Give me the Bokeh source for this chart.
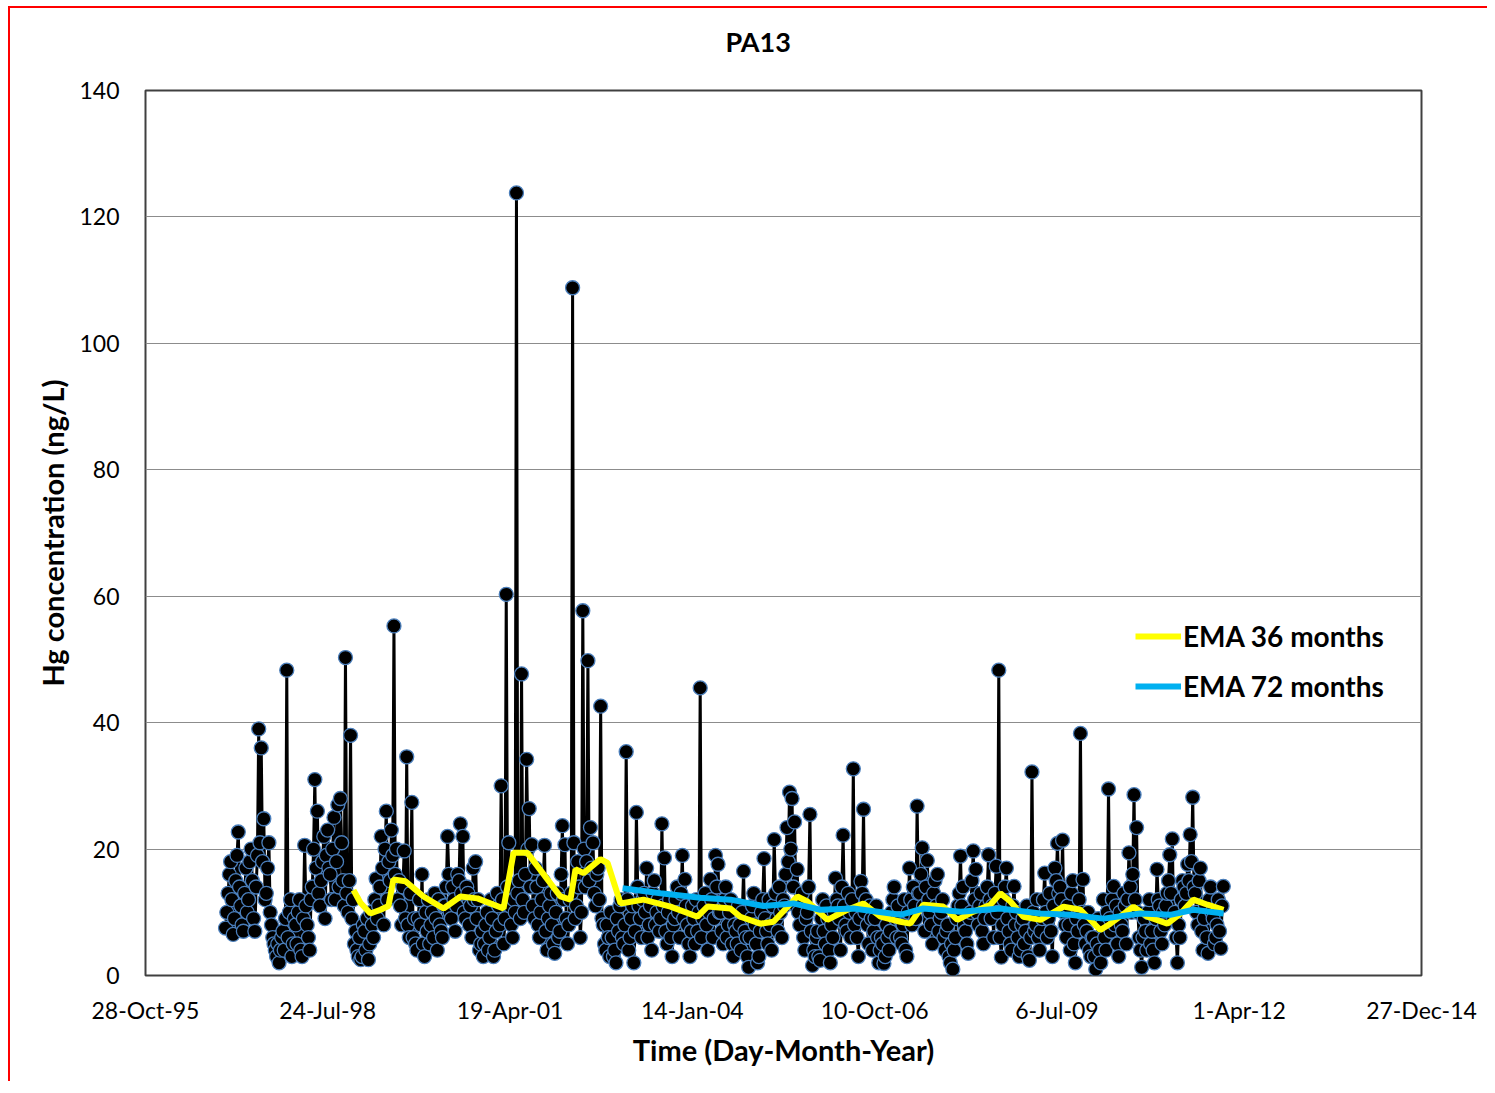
import pandas as pd
from bokeh.plotting import figure
from bokeh.models import Range1d, FixedTicker, CustomJSTickFormatter, Title
from bokeh.embed import file_html
from bokeh.resources import INLINE

# ---------------- data ----------------
sample_start = "1997-01-09"   # weekly samples
# samples on the even weeks
hg_values = [
    7.5, 13, 18, 6.5, 15, 22.7, 11, 7, 17, 12, 20, 9, 14, 39, 36, 24.8, 13, 21, 8, 5,
    3, 2, 6, 4, 48.3, 10, 3, 9, 5, 12, 3, 20.6, 8, 4, 14, 31, 26, 11, 18, 9,
    23, 16, 20, 12, 27, 28, 15, 50.3, 10, 38, 12, 7, 3, 2.5, 8, 4, 2.5, 10, 6, 15.3,
    11, 22, 8, 26, 18, 23, 55.3, 20, 15, 8, 19.7, 34.6, 6, 27.4, 9, 4, 12, 16, 3, 7,
    5, 10, 13, 4, 8, 6, 11, 22, 10, 14, 7, 16, 24, 22, 9, 13, 11, 17, 18, 12,
    5, 3, 8, 4, 12, 3, 7, 11, 30, 5, 60.3, 21, 8, 12, 123.8, 15, 47.7, 10, 34.2, 26.4,
    20.7, 9, 14, 6, 12, 20.6, 4, 11, 8, 3.5, 13, 7, 23.7, 20.7, 5, 12, 108.8, 9, 18, 6,
    57.7, 14, 49.8, 23.4, 21, 11, 17, 42.6, 8, 4, 6, 10, 3, 2, 7, 12, 5, 35.4, 4, 9,
    2, 25.8, 11, 6, 13, 17, 8, 4, 15, 10, 7, 24, 18.6, 5, 12, 3, 9, 14, 6, 19,
    15.2, 8, 3, 11, 5, 7, 45.5, 9, 13, 4, 15.2, 6, 19, 17.6, 10, 5, 14, 8, 12, 3,
    7, 11, 4, 16.5, 6, 1.3, 9, 13, 5, 3, 10, 18.5, 7, 12, 4, 21.5, 9, 14, 6, 11,
    23.4, 29, 28, 24.3, 16.8, 8, 13, 4, 10, 25.5, 1.6, 3, 7, 2.4, 12, 5, 9, 2, 6, 15.4,
    11, 4, 22.2, 8, 13, 6, 32.7, 10, 3, 14.9, 26.3, 12, 5, 9, 7, 11, 2, 6, 1.9, 8,
    4, 10, 14, 6, 9, 5, 12, 3, 17, 8, 11, 26.8, 13, 20.2, 7, 18.2, 10, 5, 15, 16,
    9, 12, 4, 8, 2, 1, 6, 11, 18.9, 14, 7, 3.5, 10, 19.7, 16.8, 8, 13, 5, 11, 19.1,
    9, 6, 17.3, 48.3, 2.9, 12, 17, 7, 4, 14.1, 10, 3, 8, 5, 11, 2.4, 32.2, 7, 12, 4,
    9, 16.2, 6, 13, 3, 17, 20.9, 14, 21.4, 8, 11, 4, 15, 2, 7, 38.3, 15.2, 5, 10, 3,
    6, 1, 9, 2, 12, 4, 29.5, 7, 14.1, 11, 3, 8, 13, 5, 19.4, 10, 28.6, 23.4, 6, 1.3,
    9, 4, 12, 7, 2, 16.8, 11, 5, 8, 13, 19.1, 21.6, 10, 2, 6, 15, 11, 17.6, 22.3, 28.2,
    13, 8, 17, 4, 11, 3.5, 14, 9, 6, 12, 4.3, 14.1,
]
# samples on the odd weeks (between the values above)
hg_values_mid = [
    10, 16, 12, 9, 19, 14, 8, 13, 10, 18, 15, 7, 19, 21, 18, 12, 17, 10, 6, 4,
    5, 4, 7, 9, 6, 12, 5, 8, 10, 4, 9, 11, 6, 12, 20, 17, 13, 15, 22, 19,
    17, 12, 25, 18, 14, 21, 11, 13, 15, 9, 5, 4, 6, 3, 7, 9, 5, 8, 12, 9,
    14, 17, 20, 12, 15, 19, 16, 12, 11, 14, 9, 8, 13, 6, 5, 9, 8, 5, 10, 12,
    8, 6, 9, 12, 7, 11, 14, 16, 9, 12, 11, 15, 13, 10, 14, 8, 6, 12, 9, 4,
    7, 5, 10, 6, 9, 4, 13, 8, 12, 9, 14, 11, 6, 10, 13, 9, 12, 16, 20, 14,
    11, 17, 8, 10, 15, 7, 9, 13, 5, 10, 6, 16, 12, 9, 8, 13, 21, 11, 14, 10,
    20, 18, 15, 17, 13, 16, 12, 9, 5, 8, 3, 6, 4, 9, 11, 6, 8, 12, 6, 11,
    7, 14, 9, 12, 10, 6, 11, 13, 8, 12, 9, 11, 7, 10, 6, 8, 12, 10, 13, 9,
    11, 5, 7, 9, 12, 10, 6, 11, 8, 10, 12, 9, 14, 10, 7, 12, 6, 10, 5, 8,
    5, 8, 10, 7, 3, 6, 11, 8, 2, 7, 12, 9, 5, 8, 11, 13, 7, 10, 12, 16,
    18, 20, 14, 11, 10, 12, 6, 9, 14, 7, 4, 6, 3, 9, 7, 11, 4, 8, 10, 12,
    9, 14, 11, 7, 10, 12, 8, 6, 9, 13, 10, 8, 11, 4, 9, 6, 4, 5, 3, 6,
    7, 12, 9, 11, 6, 8, 4, 10, 12, 14, 9, 13, 16, 11, 14, 12, 8, 13, 11, 7,
    10, 6, 7, 3, 5, 4, 9, 13, 11, 8, 5, 9, 15, 12, 10, 11, 7, 9, 14, 12,
    11, 13, 10, 6, 8, 14, 9, 5, 11, 8, 6, 4, 9, 7, 3, 6, 10, 8, 6, 7,
    12, 10, 9, 7, 11, 15, 13, 12, 10, 6, 8, 13, 5, 9, 12, 10, 8, 7, 4, 6,
    3, 5, 4, 8, 6, 10, 9, 12, 8, 5, 10, 7, 11, 12, 14, 16, 12, 10, 4, 6,
    7, 10, 5, 4, 9, 12, 7, 10, 11, 15, 13, 9, 6, 8, 12, 14, 13, 15, 18, 14,
    10, 15, 7, 9, 6, 12, 10, 5, 8, 7, 11,
]

ema36_dates = [
    "1998-12-12", "1999-01-19", "1999-03-15", "1999-05-09", "1999-06-22", "1999-07-19",
    "1999-09-23", "1999-12-31", "2000-04-19", "2000-07-21", "2000-10-22", "2001-03-14",
    "2001-05-08", "2001-07-23", "2001-11-10", "2002-01-20", "2002-03-16", "2002-04-13",
    "2002-05-27", "2002-08-28", "2002-10-06", "2002-12-16", "2003-04-21", "2003-09-16",
    "2004-02-11", "2004-04-06", "2004-08-10", "2004-10-03", "2005-01-21", "2005-04-03",
    "2005-08-12", "2005-10-06", "2006-01-24", "2006-05-13", "2006-08-09", "2006-11-11",
    "2007-02-28", "2007-04-24", "2007-07-04", "2007-10-22", "2008-01-07", "2008-04-04",
    "2008-07-06", "2008-08-30", "2008-10-24", "2009-01-03", "2009-04-07", "2009-08-11",
    "2009-11-12", "2010-03-01", "2010-04-25", "2010-08-30", "2010-11-15", "2011-03-04",
    "2011-05-15", "2011-07-25", "2011-10-10", "2012-01-06",
]
ema36_values = [
    13.5, 11.5, 9.8, 10.4, 11.0, 15.2,
    14.9, 12.5, 10.6, 12.5, 12.2, 10.6,
    19.4, 19.4, 15.2, 12.5, 12.0, 16.8,
    16.2, 18.4, 17.8, 11.4, 12.0, 10.9,
    9.3, 10.9, 10.6, 9.3, 8.2, 8.5,
    12.5, 11.7, 8.8, 10.4, 11.4, 9.3,
    8.5, 8.2, 11.2, 10.9, 8.8, 10.1,
    11.2, 13.0, 11.7, 9.3, 8.8, 10.9,
    10.4, 7.2, 8.2, 10.9, 9.3, 8.2,
    9.8, 12.0, 11.2, 10.4,
]

ema72_dates = [
    "2002-12-27", "2003-07-23", "2004-02-27", "2004-08-10", "2005-02-07", "2005-07-21",
    "2005-12-16", "2006-06-15", "2007-02-28", "2007-07-04", "2008-01-25", "2008-08-30",
    "2009-04-07", "2009-09-18", "2010-03-18", "2010-10-07", "2011-03-20", "2011-07-25",
    "2012-01-06",
]
ema72_values = [
    13.8, 13.0, 12.3, 12.0, 11.0, 11.4,
    10.4, 10.6, 9.6, 10.6, 10.1, 10.6,
    9.8, 9.6, 9.0, 9.8, 9.6, 10.4,
    9.8,
]

x_tick_dates = ["1995-10-28", "1998-07-24", "2001-04-19", "2004-01-14",
                "2006-10-10", "2009-07-06", "2012-04-01", "2014-12-27"]
y_ticks = [0, 20, 40, 60, 80, 100, 120, 140]

# ---------------- assemble weekly series ----------------
hg_weekly = []
for i, v in enumerate(hg_values):
    hg_weekly.append(v)
    if i < len(hg_values_mid):
        hg_weekly.append(hg_values_mid[i])
sample_dates = pd.date_range(sample_start, periods=len(hg_weekly), freq="7D")

# ---------------- figure ----------------
FONT = "Lato"
tick_ts = [pd.Timestamp(d) for d in x_tick_dates]

p = figure(width=1479, height=1075, x_axis_type="datetime",
           output_backend="svg", toolbar_location=None,
           x_range=Range1d(tick_ts[0], tick_ts[-1]),
           y_range=Range1d(0, 140),
           min_border_left=135, min_border_right=68,
           min_border_top=82, min_border_bottom=108,
           title="PA13")
p.styles = {"margin-left": "8px", "margin-top": "6px",
            "border-left": "2px solid red", "border-top": "2px solid red"}

p.title.align = "left"
p.title.offset = 580
p.title.text_font = FONT
p.title.text_font_size = "27px"
p.title.text_font_style = "bold"
p.title.text_color = "black"
p.title.standoff = 4

# empty spacer between the title and the plot frame
p.add_layout(Title(text=" ", text_font_size="10px", standoff=18), "above")

p.outline_line_color = "#404040"
p.outline_line_width = 2
p.background_fill_color = "white"
p.border_fill_color = "white"

p.xgrid.grid_line_color = None
p.ygrid.grid_line_color = "#8c8c8c"
p.ygrid.grid_line_width = 1

p.yaxis.ticker = FixedTicker(ticks=y_ticks)
p.xaxis.ticker = FixedTicker(ticks=[t.value / 1e6 for t in tick_ts])
p.xaxis.formatter = CustomJSTickFormatter(code="""
const d = new Date(tick);
const m = ["Jan","Feb","Mar","Apr","May","Jun","Jul","Aug","Sep","Oct","Nov","Dec"][d.getUTCMonth()];
return d.getUTCDate() + "-" + m + "-" + String(d.getUTCFullYear()).slice(2);
""")

for ax in (p.xaxis, p.yaxis):
    ax.axis_line_color = None
    ax.major_tick_line_color = None
    ax.minor_tick_line_color = None
    ax.major_tick_out = 0
    ax.minor_tick_out = 0
    ax.major_label_text_font = FONT
    ax.major_label_text_font_size = "23px"
    ax.major_label_text_color = "black"
    ax.axis_label_text_font = FONT
    ax.axis_label_text_font_size = "29px"
    ax.axis_label_text_font_style = "bold"
    ax.axis_label_text_color = "black"

p.xaxis.axis_label = "Time (Day-Month-Year)"
p.yaxis.axis_label = "Hg concentration (ng/L)"
p.xaxis.major_label_standoff = 20
p.xaxis.axis_label_standoff = 5
p.yaxis.major_label_standoff = 26
p.yaxis.axis_label_standoff = 6

# data line and markers
p.line(sample_dates, hg_weekly, line_color="black", line_width=3)
p.scatter(sample_dates, hg_weekly, size=14, fill_color="black",
          line_color="#4a7ebb", line_width=1.3)

# EMA lines
p.line(pd.to_datetime(ema36_dates), ema36_values, line_color="#ffff00",
       line_width=6, legend_label="EMA 36 months")
p.line(pd.to_datetime(ema72_dates), ema72_values, line_color="#00b0f0",
       line_width=6, legend_label="EMA 72 months")

lg = p.legend[0]
lg.location = (990, 272)
lg.border_line_color = None
lg.background_fill_alpha = 0
lg.padding = 0
lg.margin = 0
lg.spacing = 16
lg.glyph_width = 46
lg.glyph_height = 30
lg.label_height = 30
lg.label_standoff = 2
lg.label_text_font = FONT
lg.label_text_font_size = "28px"
lg.label_text_font_style = "bold"
lg.label_text_color = "black"

open("out.html", "w").write(file_html(p, INLINE))
